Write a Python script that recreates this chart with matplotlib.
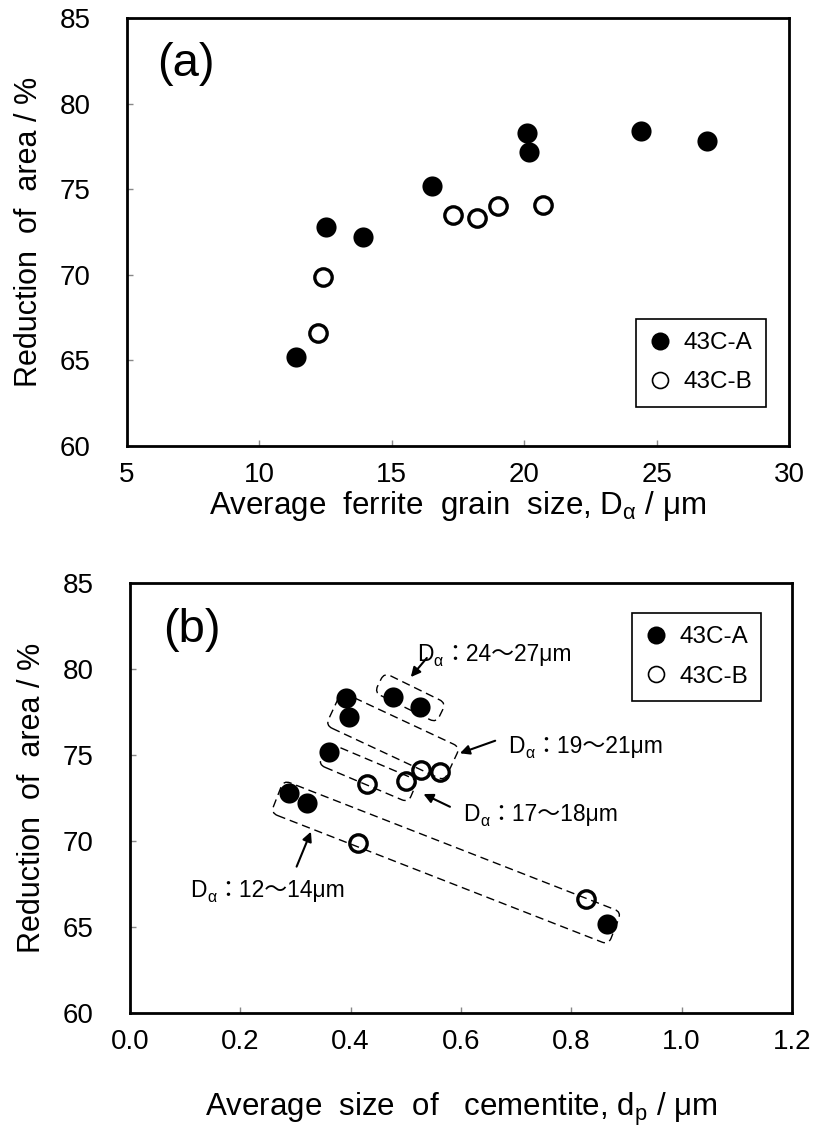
import matplotlib
matplotlib.use("Agg")
import numpy as np
import matplotlib.pyplot as plt
from matplotlib.patches import FancyBboxPatch
from matplotlib.transforms import Affine2D, IdentityTransform
from matplotlib.lines import Line2D

plt.rcParams["font.family"] = ["Liberation Sans", "Noto Sans CJK JP", "DejaVu Sans"]
plt.rcParams["mathtext.fontset"] = "custom"
plt.rcParams["mathtext.rm"] = "Liberation Sans"
plt.rcParams["mathtext.it"] = "Liberation Sans:italic"
plt.rcParams["mathtext.bf"] = "Liberation Sans:bold"

# ---- measured data -------------------------------------------------------
# steel 43C-A
grain_A = [11.4, 12.5, 13.9, 16.5, 20.1, 20.2, 24.4, 26.9]          # D_alpha / um
cementite_A = [0.864, 0.289, 0.320, 0.361, 0.391, 0.397, 0.476, 0.525]  # d_p / um
ra_A = [65.2, 72.8, 72.2, 75.2, 78.3, 77.2, 78.4, 77.8]             # RA / %

# steel 43C-B
grain_B = [12.2, 12.4, 17.3, 18.2, 19.0, 20.7]
cementite_B = [0.827, 0.413, 0.501, 0.429, 0.562, 0.527]
ra_B = [66.6, 69.9, 73.5, 73.3, 74.0, 74.1]

series_labels = ["43C-A", "43C-B"]
x_ticks_a = [5, 10, 15, 20, 25, 30]
x_ticks_b = [0.0, 0.2, 0.4, 0.6, 0.8, 1.0, 1.2]
y_ticks = [60, 65, 70, 75, 80, 85]

# grain-size ranges of the groups outlined in panel (b)
group_ranges = ["：24～27μm", "：19～21μm", "：17～18μm", "：12～14μm"]

DPI = 100
fig = plt.figure(figsize=(8.15, 11.33), dpi=DPI)
W, H = 815, 1133
ax_a = fig.add_axes([127 / W, 1 - 446 / H, 662 / W, 428 / H])
ax_b = fig.add_axes([130 / W, 1 - 1013 / H, 662 / W, 430 / H])


def style_axes(ax):
    for s in ax.spines.values():
        s.set_linewidth(2.0)
        s.set_color("black")
    ax.tick_params(direction="in", length=4.5, width=1.0, color="#888888",
                   labelsize=20, top=False, right=False)
    ax.tick_params(axis="x", pad=11.5)
    ax.tick_params(axis="y", pad=26)
    ax.set_ylim(60, 85)
    ax.set_yticks(y_ticks)
    ax.set_ylabel("Reduction  of  area / %", fontsize=22)
    ax.yaxis.set_label_coords(-0.125, 0.5)


def draw_points(ax, xa, ya, xb, yb):
    ax.plot(xa, ya, ls="none", marker="o", ms=14.5, mfc="black",
            mec="black", mew=0, zorder=4)
    ax.plot(xb, yb, ls="none", marker="o", ms=12.5, mfc="none",
            mec="black", mew=2.4, zorder=4)


def add_legend(ax, anchor):
    handles = [
        Line2D([], [], ls="none", marker="o", ms=13, mfc="black", mec="black", mew=0),
        Line2D([], [], ls="none", marker="o", ms=11.5, mfc="white", mec="black", mew=1.2),
    ]
    leg = ax.legend(handles, series_labels, loc="upper left", bbox_to_anchor=anchor,
                    borderaxespad=0, fontsize=17.5, handlelength=0.9,
                    handletextpad=0.5, borderpad=0.55, labelspacing=0.7,
                    fancybox=False, framealpha=1, edgecolor="black")
    leg.get_frame().set_linewidth(1.2)


def group_box(ax, start, end, thickness_px, radius_px=7):
    p0 = ax.transData.transform(start)
    p1 = ax.transData.transform(end)
    d = p1 - p0
    length = np.hypot(*d)
    ang = np.degrees(np.arctan2(d[1], d[0]))
    box = FancyBboxPatch((0, -thickness_px / 2), length, thickness_px,
                         boxstyle=f"round,pad=0,rounding_size={radius_px}",
                         transform=Affine2D().rotate_deg(ang).translate(*p0),
                         fill=False, ec="black", lw=1.0, ls=(0, (6, 3.5)), zorder=3)
    ax.add_patch(box)


def grain_label(ax, xy, rest, fs=16.5):
    """Write 'D' + subscript alpha + rest, left-aligned, vertically centred at xy."""
    renderer = fig.canvas.get_renderer()
    ident = IdentityTransform()
    fs_px = fs * DPI / 72
    px, py = ax.transData.transform(xy)
    base = py - 0.36 * fs_px
    t1 = ax.text(px, base, "D", fontsize=fs, transform=ident, ha="left", va="baseline")
    x1 = t1.get_window_extent(renderer).x1
    t2 = ax.text(x1 + 0.5, base - 0.22 * fs_px, "α", fontsize=fs * 0.7,
                 transform=ident, ha="left", va="baseline")
    x2 = t2.get_window_extent(renderer).x1
    ax.text(x2, base, rest, fontsize=fs, transform=ident, ha="left", va="baseline")


# ---- panel (a) ----------------------------------------------------------
style_axes(ax_a)
draw_points(ax_a, grain_A, ra_A, grain_B, ra_B)
ax_a.set_xlim(5, 30)
ax_a.set_xticks(x_ticks_a)
ax_a.set_xlabel("Average  ferrite  grain  size, D$_{\\mathrm{α}}$ / μm", fontsize=22.5)
ax_a.xaxis.set_label_coords(0.5, -0.1)
ax_a.text(0.045, 0.893, "(a)", transform=ax_a.transAxes, fontsize=34,
          ha="left", va="center")
add_legend(ax_a, (0.769, 0.297))

# ---- panel (b) ----------------------------------------------------------
style_axes(ax_b)
ax_b.set_xlim(0.0, 1.2)
ax_b.set_xticks(x_ticks_b)
ax_b.set_xticklabels([f"{v:.1f}" for v in x_ticks_b])
ax_b.set_xlabel("Average  size  of   cementite, d$_{\\mathrm{p}}$ / μm", fontsize=22.5)
ax_b.xaxis.set_label_coords(0.5, -0.18)
ax_b.text(0.05, 0.891, "(b)", transform=ax_b.transAxes, fontsize=34,
          ha="left", va="center")
add_legend(ax_b, (0.758, 0.930))
draw_points(ax_b, cementite_A, ra_A, cementite_B, ra_B)

# dashed outlines around each grain-size group
group_box(ax_b, (0.452, 79.21), (0.564, 77.45), 22)
group_box(ax_b, (0.369, 77.70), (0.584, 74.48), 37)
group_box(ax_b, (0.350, 75.09), (0.513, 72.88), 24)
group_box(ax_b, (0.267, 72.58), (0.879, 64.92), 35)

label_pos = [(0.520, 80.93), (0.685, 75.58), (0.604, 71.63), (0.109, 67.21)]
arrow_tail = [(0.538, 80.64), (0.662, 75.83), (0.580, 71.99), (0.302, 68.51)]
arrow_head = [(0.509, 79.53), (0.598, 75.10), (0.532, 72.73), (0.328, 70.54)]
for rest, pos, tail, head in zip(group_ranges, label_pos, arrow_tail, arrow_head):
    grain_label(ax_b, pos, rest)
    ax_b.annotate("", xy=head, xytext=tail,
                  arrowprops=dict(arrowstyle="-|>", color="black", lw=1.5,
                                  mutation_scale=14, shrinkA=0, shrinkB=0))

fig.savefig("out.png", dpi=DPI, facecolor="white")
